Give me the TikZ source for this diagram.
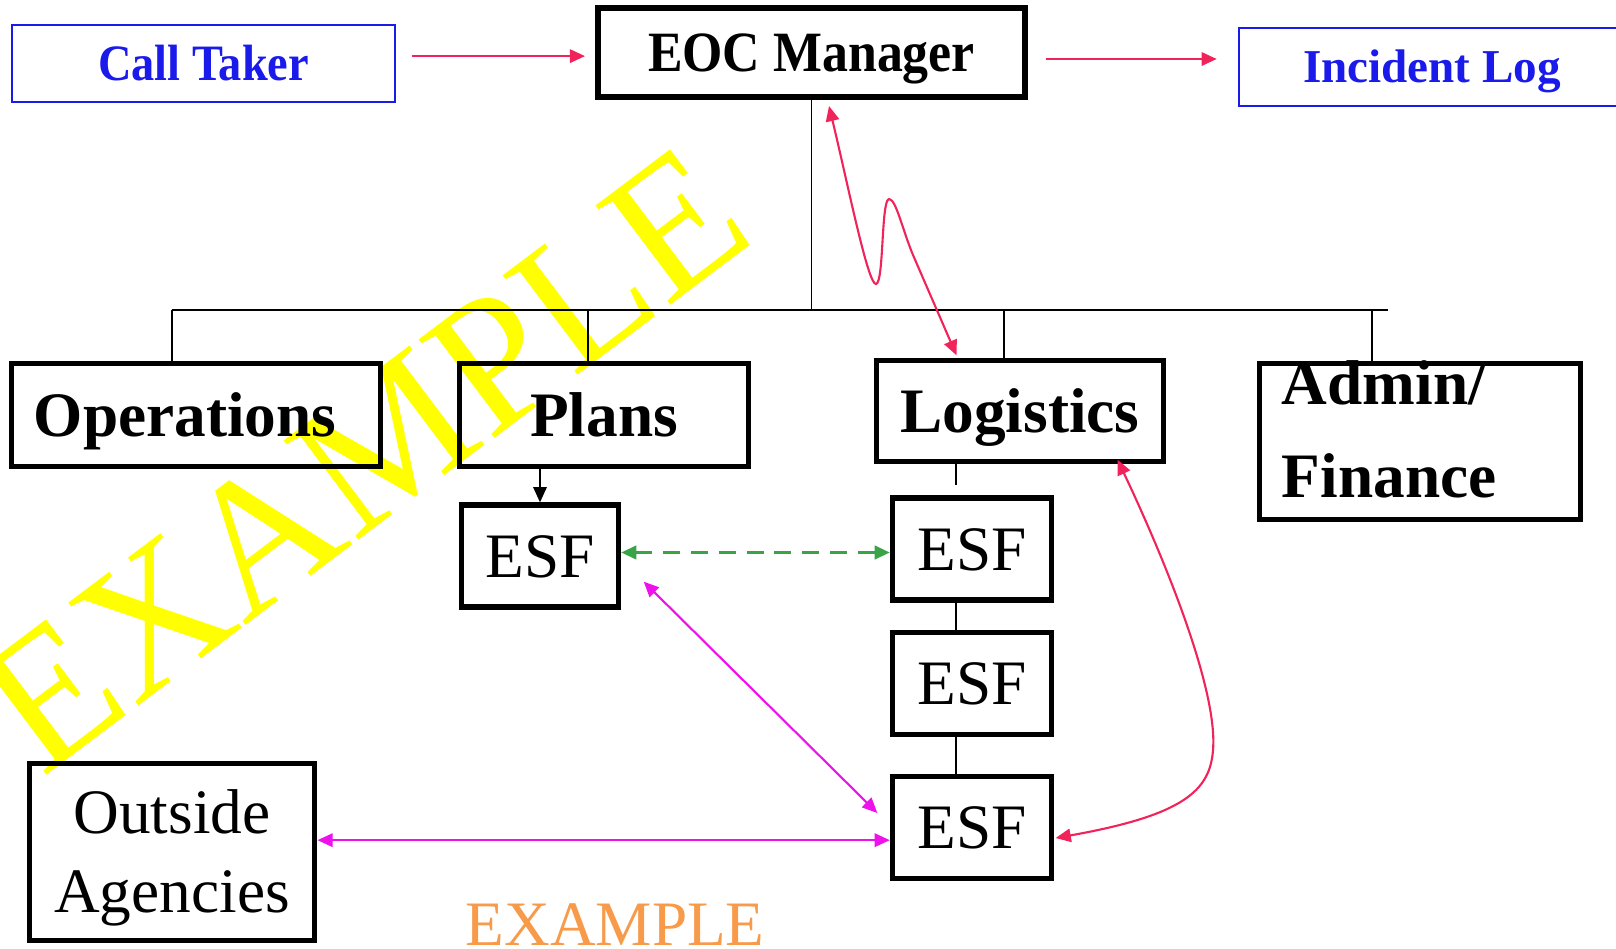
\documentclass[tikz,border=0pt]{standalone}
\usepackage{fontspec}
\setmainfont{Liberation Serif}
\newfontfamily\narrowserif{Liberation Serif}[FakeStretch=0.91]
\usetikzlibrary{arrows.meta,calc}

\definecolor{linkred}{HTML}{F0245A}
\definecolor{boxblue}{HTML}{1A1AEB}
\definecolor{linkgreen}{HTML}{3AA346}
\definecolor{linkmagenta}{HTML}{EE11EE}
\definecolor{markyellow}{HTML}{FFFF00}
\definecolor{markorange}{HTML}{F79A4A}

\begin{document}
\begin{tikzpicture}
  [x=0.01cm, y=-0.01cm,
   >={Triangle[length=4.3pt,width=3.8pt]},
   every node/.style={inner sep=0pt, text depth=0pt},
   bluebox/.style={draw=boxblue, line width=0.6pt, text=boxblue},
   blackbox/.style={draw, line width=1.5pt, minimum height=1.03cm},
   head/.style={font=\fontsize{18}{22}\selectfont\bfseries, text height=0.42cm},
   esfbox/.style={blackbox, minimum width=1.59cm, minimum height=1.02cm,
     font=\fontsize{18}{22}\selectfont, text height=0.42cm},
   tree/.style={line width=0.45pt},
   redlink/.style={draw=linkred, line width=0.6pt},
   maglink/.style={draw=linkmagenta, line width=0.6pt, <->},
   dashlink/.style={draw=linkgreen, line width=0.85pt, <->,
     dash pattern=on 4.8pt off 3.1pt}]

  \useasboundingbox (0,0) rectangle (1616,948);
  \clip (0,0) rectangle (1616,948);

  % watermark
  \node[text=markyellow, font=\fontsize{54}{60}\selectfont, rotate=37,
        anchor=base west] (mark) at (42,779) {EXAMPLE};

  % top row
  \node[bluebox, minimum width=3.83cm, minimum height=0.77cm, text height=0.34cm,
        font=\narrowserif\bfseries\fontsize{14.5}{17}\selectfont]
        (caller) at (203.5,63.5) {Call Taker};
  \node[draw, line width=1.7pt, minimum width=4.27cm, minimum height=0.89cm,
        text height=0.38cm, font=\narrowserif\bfseries\fontsize{16.2}{19}\selectfont]
        (eoc) at (811.5,52.5) {EOC Manager};
  \node[bluebox, minimum width=3.86cm, minimum height=0.78cm, text height=0.31cm,
        font=\bfseries\fontsize{13.4}{16}\selectfont]
        (log) at (1432,67) {Incident Log};

  % sections
  \node[blackbox, head, minimum width=3.69cm] (ops) at (196,415) {Operations\hspace*{0.22cm}};
  \node[blackbox, head, minimum width=2.89cm] (plans) at (604,415) {Plans};
  \node[blackbox, head, minimum width=2.87cm, minimum height=1.01cm]
        (logistics) at (1020,411) {Logistics};
  \node[blackbox, head, minimum width=3.21cm, minimum height=1.56cm,
        text width=2.76cm, align=left, text height=0.41cm, text depth=1.14cm,
        font=\fontsize{18}{26.2}\selectfont\bfseries]
        (admin) at (1420,441.5) {Admin/\\Finance};

  % ESF boxes
  \node[esfbox, minimum width=1.57cm] (esfp) at (540,556) {ESF};
  \foreach \n/\y in {1/549, 2/683.5, 3/827.5}
    \node[esfbox] (esf\n) at (972,\y) {ESF};

  \node[blackbox, minimum width=2.855cm, minimum height=1.775cm,
        font=\fontsize{18}{22.5}\selectfont, text width=2.6cm, align=center,
        text height=0.44cm, text depth=0.82cm]
        (outside) at (172,852) {Outside\\Agencies};

  \node[text=markorange, font=\fontsize{18}{22}\selectfont, anchor=base west]
        (stamp) at (465,945) {EXAMPLE};

  % tree
  \coordinate (busL) at (172,310);
  \coordinate (busR) at (1388,310);
  \draw[tree] (eoc.south) -- (eoc.south |- busL);
  \draw[tree] (busL) -- (busR);
  \foreach \x/\n in {172/ops, 588/plans, 1004/logistics, 1372/admin}
    \draw[tree] (\x,310) -- (\x,310 |- \n.north);

  \coordinate (spine) at (956,0);
  \draw[tree] (spine |- logistics.south) -- ([yshift=3pt]spine |- esf1.north);
  \draw[tree] (spine |- esf1.south) -- (spine |- esf2.north);
  \draw[tree] (spine |- esf2.south) -- (spine |- esf3.north);
  \draw[tree, ->] (esfp.north |- plans.south) -- (esfp.north);

  % red links
  \draw[redlink, ->, shorten <=4.4pt, shorten >=2.8pt]
    ([yshift=2.1pt]caller.east) -- ([yshift=2.1pt]caller.east -| eoc.west);
  \draw[redlink, ->, shorten <=5.1pt, shorten >=6pt]
    ([yshift=-1.85pt]eoc.east) -- ([yshift=-1.85pt]eoc.east -| log.west);
  \draw[redlink, <->] ($(eoc.south)+(17.5,6)$)
    .. controls (848,185) and (868,285) .. (876,284)
    .. controls (884,283) and (881,200) .. (889,199)
    .. controls (896,199) and (902.5,230) .. (913,255)
    -- ($(logistics.north)+(-63.5,-2.5)$);
  \draw[redlink, <->] ($(logistics.south)+(97.5,-4.5)$)
    .. controls (1165,560) and (1218,690) .. (1213,750)
    .. controls (1210,790) and (1185,815) .. ($(esf3.east)+(1.5,10.5)$);

  % ESF links
  \draw[dashlink] ([yshift=1pt]esfp.east) -- ([yshift=1pt]esfp.east -| esf1.west);
  \draw[maglink] ($(esfp.south east)+(22.5,-28)$) -- ($(esf3.west)+(-12.5,-14.5)$);
  \draw[maglink] ([yshift=-3.6pt]esf3.west) -- ([yshift=-3.6pt]esf3.west -| outside.east);
\end{tikzpicture}
\end{document}
